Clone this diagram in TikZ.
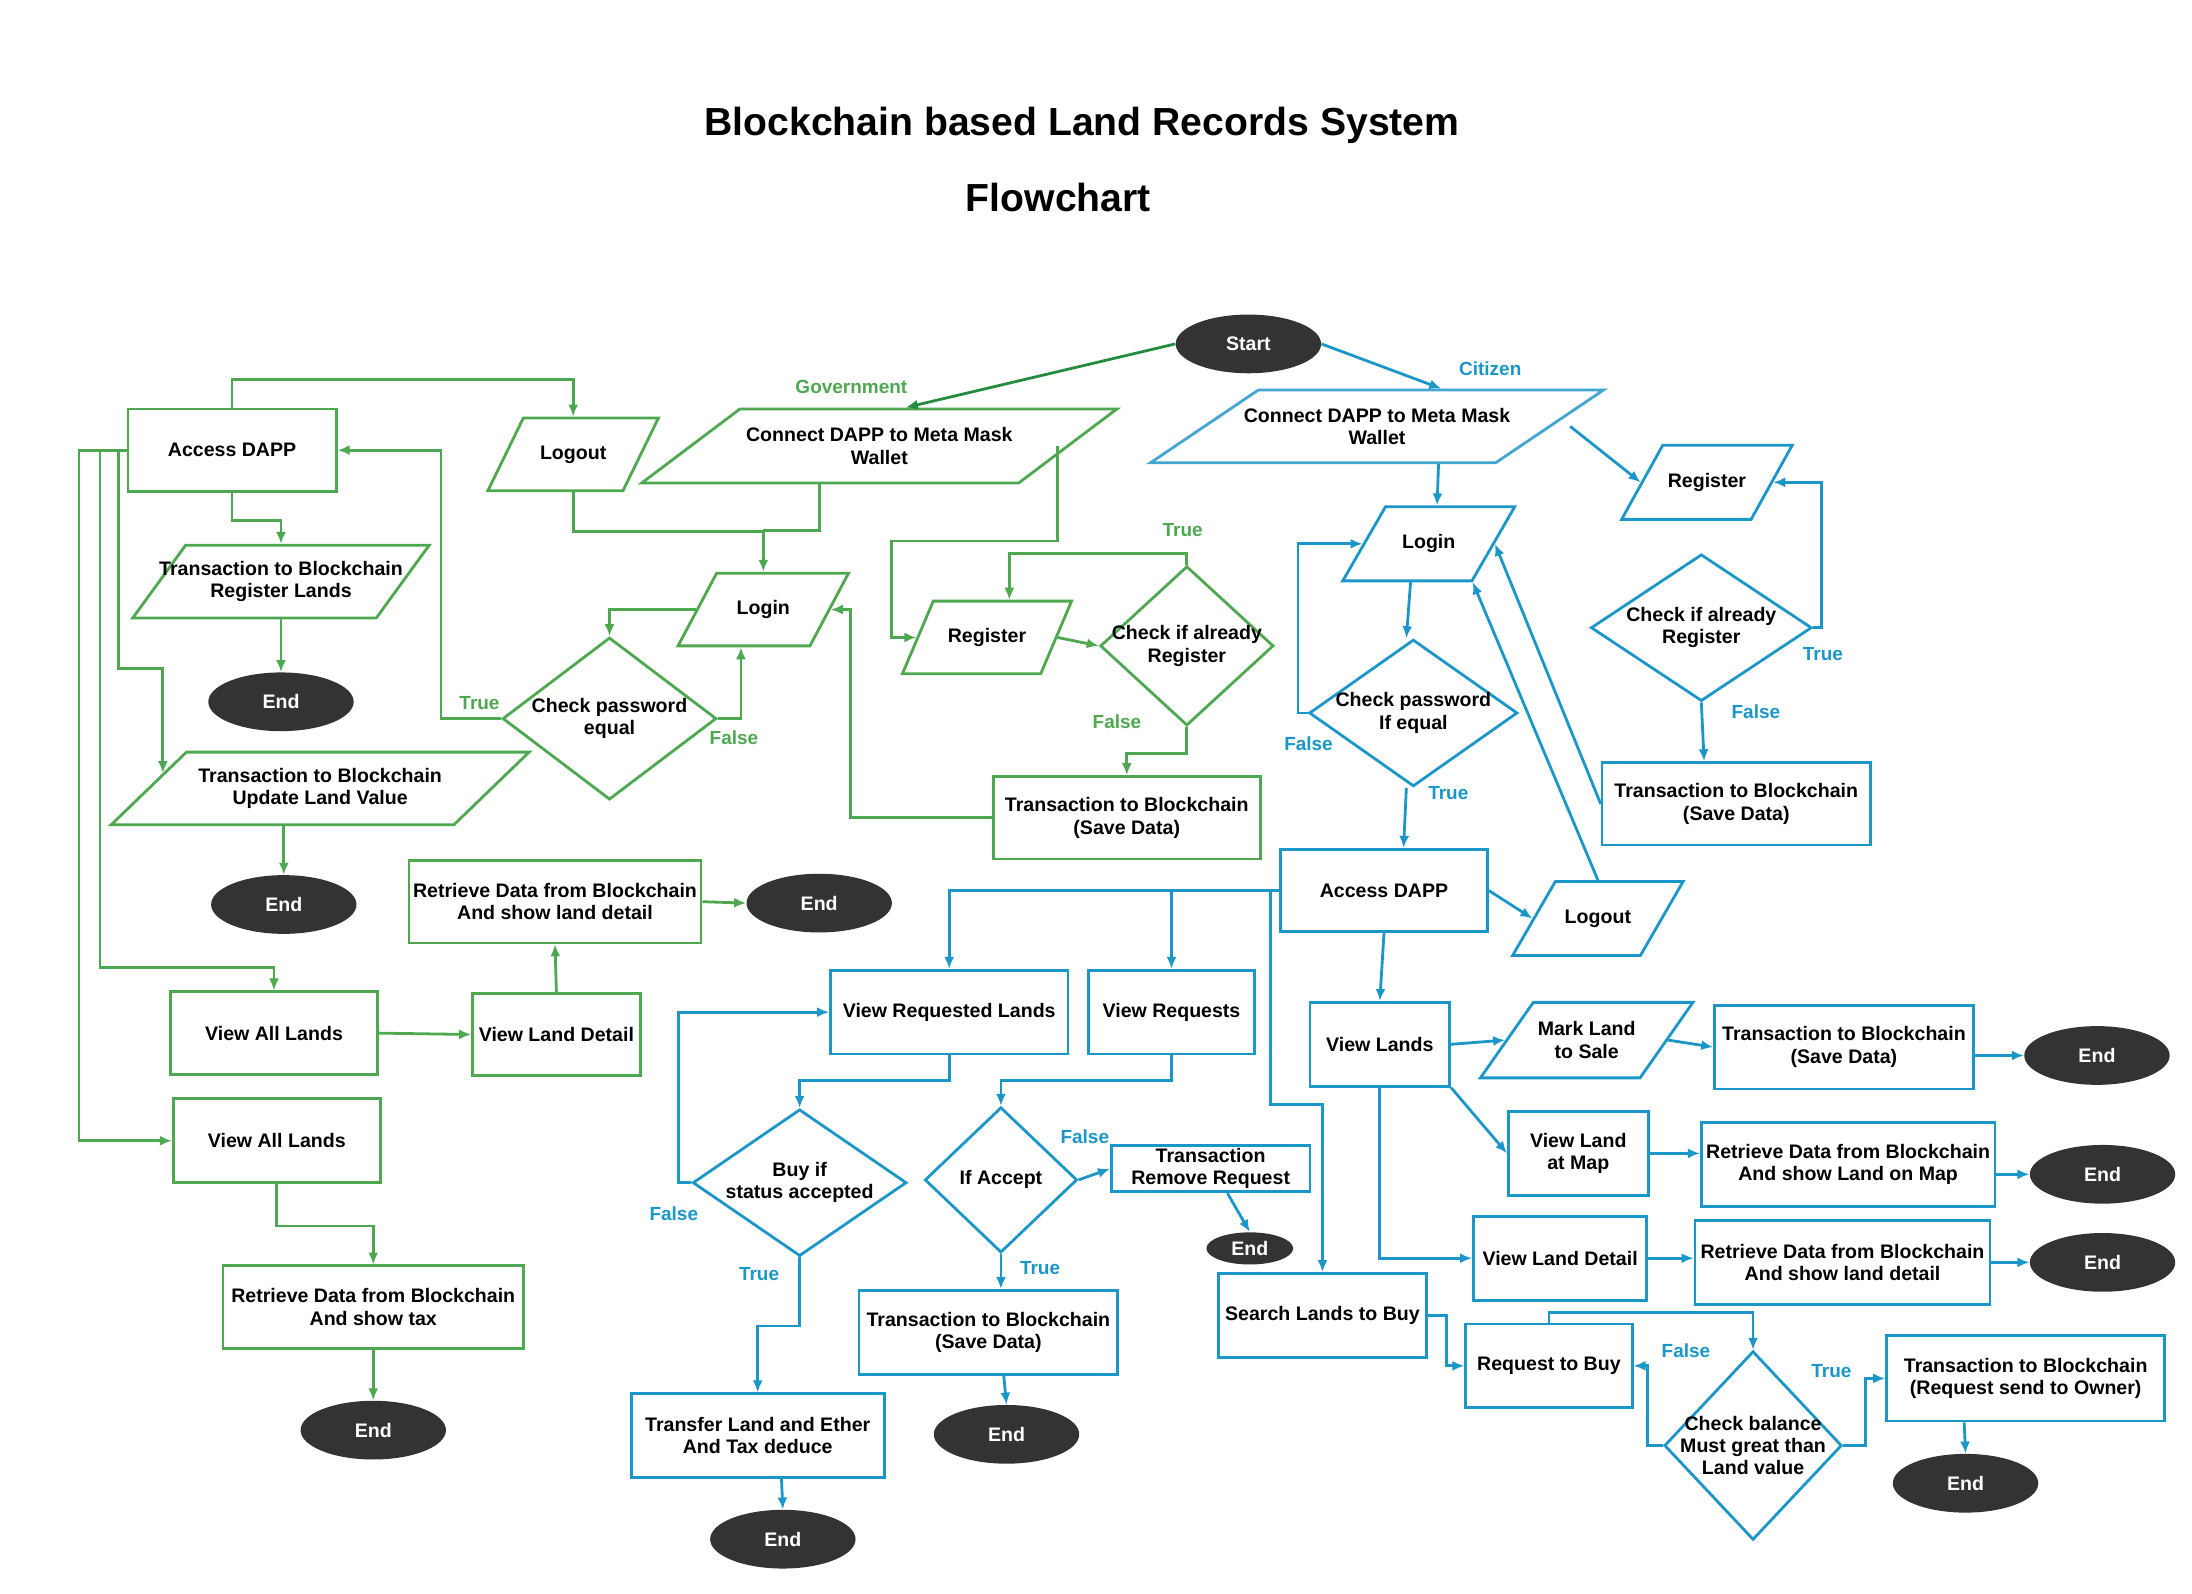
\documentclass[tikz,border=0pt]{standalone}
\usepackage{fontspec}
\setmainfont{Liberation Sans}
\usepackage{xcolor}
\usepackage{tikz}
\usetikzlibrary{arrows, arrows.meta, positioning, shapes.geometric}

\definecolor{gcol}{RGB}{77,168,80}
\definecolor{gdark}{RGB}{36,140,62}
\definecolor{bcol}{RGB}{27,150,200}
\definecolor{blight}{RGB}{66,165,210}
\definecolor{endcol}{RGB}{51,51,51}

\newlength\px \setlength\px{0.7pt}
\newcommand\boxfont{\fontsize{9.8}{11.2}\selectfont\bfseries}
\newcommand\tagfont{\fontsize{9.5}{11}\selectfont\bfseries}
\newcommand\titlefont{\fontsize{19.6}{23}\selectfont\bfseries}
\newcommand\pbody[1]{\rule{0pt}{#1\px}}

\tikzset{wh/.style 2 args={minimum width=#1\px, minimum height=#2\px},
         lean/.style={trapezium left angle=#1, trapezium right angle=180-#1}}
\tikzstyle{gbox} = [rectangle, draw=gcol, line width=1.4pt, align=center, inner sep=0pt, font=\boxfont]
\tikzstyle{bbox} = [gbox, draw=bcol]
\tikzstyle{gpara} = [trapezium, trapezium stretches body, draw=gcol, line width=1.4pt, inner sep=0pt]
\tikzstyle{bpara} = [gpara, draw=bcol]
\tikzstyle{gdec} = [diamond, draw=gcol, line width=1.4pt, inner sep=0pt]
\tikzstyle{bdec} = [gdec, draw=bcol]
\tikzstyle{dtext} = [align=center, inner sep=0pt, font=\boxfont]
\tikzstyle{term} = [ellipse, fill=endcol, text=white, inner sep=0pt, font=\boxfont, minimum width=104\px, minimum height=42\px]
\tikzstyle{garrow} = [draw=gcol, line width=1.4pt, -{Latex[length=6pt,width=5pt]}]
\tikzstyle{barrow} = [garrow, draw=bcol]
\tikzstyle{gline} = [draw=gcol, line width=1.4pt]
\tikzstyle{gtag} = [text=gcol, font=\tagfont]
\tikzstyle{btag} = [text=bcol, font=\tagfont]

\begin{document}
\begin{tikzpicture}[x=0.7pt, y=-0.7pt]
    \useasboundingbox (0,0) rectangle (1568,1140);

    \node (title) [font=\titlefont] at (774,90) {Blockchain based Land Records System};
    \node (subtitle) [font=\titlefont] at (757,141) {Flowchart};

    \node (start) [term] at (893,246) {Start};

    % government side
    \node (gAccess) [gbox, wh={149}{59}] at (166,322) {Access DAPP};
    \node (gLogout) [gpara, lean=64, wh={122}{52}, label={[dtext]center:Logout}] at (410,325) {\pbody{52}};
    \node (gConnect) [gpara, lean=37, wh={340}{53}, label={[dtext]center:Connect DAPP to Meta Mask\\Wallet}] at (629,319) {\pbody{53}};
    \node (gTxReg) [gpara, lean=54, wh={212}{52}, label={[dtext]center:Transaction to Blockchain\\Register Lands}] at (201,416) {\pbody{52}};
    \node (gEndA) [term] at (201,502) {End};
    \node (gLogin) [gpara, lean=62, wh={122}{52}, label={[dtext]center:Login}] at (546,436) {\pbody{52}};
    \node (gCheckPw) [gdec, wh={153}{116}, label={[dtext]center:Check password\\equal}] at (436,514) {};
    \node (gTxUpd) [gpara, lean=44, wh={299}{52}, label={[dtext]center:Transaction to Blockchain\\Update Land Value}] at (229,564) {\pbody{52}};
    \node (gEndB) [term] at (203,647) {End};
    \node (gRetDetail) [gbox, wh={209}{59}] at (397,645) {Retrieve Data from Blockchain\\And show land detail};
    \node (gEndC) [term] at (586,646) {End};
    \node (gViewAllA) [gbox, wh={148}{59}] at (196,739) {View All Lands};
    \node (gViewDetail) [gbox, wh={120}{59}] at (398,740) {View Land Detail};
    \node (gViewAllB) [gbox, wh={148}{60}] at (198,816) {View All Lands};
    \node (gRetTax) [gbox, wh={215}{59}] at (267,935) {Retrieve Data from Blockchain\\And show tax};
    \node (gEndD) [term] at (267,1023) {End};
    \node (gRegister) [gpara, lean=67, wh={121}{52}, label={[dtext]center:Register}] at (706,456) {\pbody{52}};
    \node (gCheckReg) [gdec, wh={124}{114}, label={[dtext]center:Check if already\\Register}] at (849,462) {};
    \node (gTxSave) [gbox, wh={191}{59}] at (806,585) {Transaction to Blockchain\\(Save Data)};

    % citizen side
    \node (bConnect) [bpara, draw=blight, lean=34, wh={324}{52}, label={[dtext]center:Connect DAPP to Meta Mask\\Wallet}] at (985,305) {\pbody{52}};
    \node (bLogin) [bpara, lean=60, wh={123}{53}, label={[dtext]center:Login}] at (1022,389) {\pbody{53}};
    \node (bRegister) [bpara, lean=61, wh={122}{53}, label={[dtext]center:Register}] at (1221,345) {\pbody{53}};
    \node (bCheckReg) [bdec, wh={158}{105}, label={[dtext]center:Check if already\\Register}] at (1217,449) {};
    \node (bTxSave) [bbox, wh={192}{59}] at (1242,575) {Transaction to Blockchain\\(Save Data)};
    \node (bCheckPw) [bdec, wh={149}{105}, label={[dtext]center:Check password\\If equal}] at (1011,510) {};
    \node (bAccess) [bbox, wh={148}{59}] at (990,637) {Access DAPP};
    \node (bLogout) [bpara, lean=60, wh={122}{53}, label={[dtext]center:Logout}] at (1143,657) {\pbody{53}};
    \node (bViewReqL) [bbox, wh={170}{60}] at (679,724) {View Requested Lands};
    \node (bViewReq) [bbox, wh={119}{60}] at (838,724) {View Requests};
    \node (bBuy) [bdec, wh={153}{105}, label={[dtext]center:Buy if\\status accepted}] at (572,846) {};
    \node (bTransfer) [bbox, wh={181}{60}] at (542,1027) {Transfer Land and Ether\\And Tax deduce};
    \node (bEndT) [term] at (560,1101) {End};
    \node (bAccept) [bdec, wh={109}{104}, label={[dtext]center:If Accept}] at (716,844) {};
    \node (bRemove) [bbox, wh={142}{33}] at (866,836) {Transaction\\Remove Request};
    \node (bEndR) [term, wh={62}{23}] at (894,893) {End};
    \node (bTxSaveB) [bbox, wh={185}{60}] at (707,953) {Transaction to Blockchain\\(Save Data)};
    \node (bEndS) [term] at (720,1026) {End};
    \node (bSearch) [bbox, wh={149}{60}] at (946,941) {Search Lands to Buy};
    \node (bReqBuy) [bbox, wh={119}{60}] at (1108,977) {Request to Buy};
    \node (bBalance) [bdec, wh={127}{135}, label={[dtext]center:Check balance\\Must great than\\Land value}] at (1254,1034) {};
    \node (bTxReq) [bbox, wh={199}{61}] at (1449,986) {Transaction to Blockchain\\(Request send to Owner)};
    \node (bEndQ) [term] at (1406,1061) {End};
    \node (bViewLands) [bbox, wh={100}{60}] at (987,747) {View Lands};
    \node (bMark) [bpara, lean=55, wh={152}{54}, label={[dtext]center:Mark Land\\to Sale}] at (1135,744) {\pbody{54}};
    \node (bTxLand) [bbox, wh={185}{60}] at (1319,749) {Transaction to Blockchain\\(Save Data)};
    \node (bEndE) [term] at (1500,755) {End};
    \node (bMapView) [bbox, wh={100}{60}] at (1129,825) {View Land\\at Map};
    \node (bRetMap) [bbox, wh={210}{60}] at (1322,833) {Retrieve Data from Blockchain\\And show Land on Map};
    \node (bEndF) [term] at (1504,840) {End};
    \node (bDetail) [bbox, wh={124}{60}] at (1116,900) {View Land Detail};
    \node (bRetDet) [bbox, wh={211}{60}] at (1318,903) {Retrieve Data from Blockchain\\And show land detail};
    \node (bEndG) [term] at (1504,903) {End};

    % branch labels
    \node (tGov) [gtag] at (609,277) {Government};
    \node (tGTrueA) [gtag] at (846,379) {True};
    \node (tGFalseA) [gtag] at (799,516) {False};
    \node (tGTrueB) [gtag] at (343,503) {True};
    \node (tGFalseB) [gtag] at (525,528) {False};
    \node (tCit) [btag] at (1066,264) {Citizen};
    \node (tBTrueA) [btag] at (1304,468) {True};
    \node (tBFalseA) [btag] at (1256,509) {False};
    \node (tBFalseB) [btag] at (936,532) {False};
    \node (tBTrueB) [btag] at (1036,567) {True};
    \node (tBFalseC) [btag] at (482,868) {False};
    \node (tBTrueC) [btag] at (543,911) {True};
    \node (tBFalseD) [btag] at (776,813) {False};
    \node (tBTrueD) [btag] at (744,907) {True};
    \node (tBFalseE) [btag] at (1206,966) {False};
    \node (tBTrueE) [btag] at (1310,981) {True};

    % government connectors
    \draw[garrow, draw=gdark] (start.west) -- ([xshift=19\px]gConnect.north);
    \draw[garrow] (gAccess.north) -- ++(0,-20) -| (gLogout.north);
    \draw[garrow] (gLogout.south) -- ++(0,28) -| (gLogin.north);
    \draw[gline] ([xshift=-43\px]gConnect.south) -- ++(0,33) -- ++(-40,0);
    \draw[garrow] ([xshift=-9\px]gConnect.east) -- ++(0,68) -- ++(-119,0) |- (gRegister.west);
    \draw[garrow] (gRegister.east) -- (gCheckReg.west);
    \draw[garrow] (gCheckReg.north) -- ++(0,-8) -| ([xshift=16\px]gRegister.north);
    \draw[garrow] (gCheckReg.south) -- ++(0,19) -| (gTxSave.north);
    \draw[garrow] (gTxSave.west) -- ++(-101,0) |- (gLogin.east);
    \draw[garrow] (gLogin.west) -| (gCheckPw.north);
    \draw[garrow] (gCheckPw.east) -| ([xshift=-16\px]gLogin.south);
    \draw[garrow] (gCheckPw.west) -- ++(-43,0) |- (gAccess.east);
    \draw[garrow] (gAccess.south) -- ++(0,20) -| (gTxReg.north);
    \draw[garrow] (gTxReg.south) -- (gEndA.north);
    \draw[garrow] (gTxUpd.south -| gEndB.north) -- (gEndB.north);
    \draw[garrow] (gAccess.west) -| ++(-6,156) -| ++(32,75);
    \draw[garrow] (gAccess.west) -| ++(-19,370) -| (gViewAllA.north);
    \draw[garrow] (gAccess.west) -| ++(-34,494) -- (gViewAllB.west);
    \draw[garrow] (gViewAllA.east) -- (gViewDetail.west);
    \draw[garrow] (gViewDetail.north) -- (gRetDetail.south);
    \draw[garrow] (gRetDetail.east) -- (gEndC.west);
    \draw[garrow] (gViewAllB.south) -- ++(0,30) -| (gRetTax.north);
    \draw[garrow] (gRetTax.south) -- (gEndD.north);

    % citizen connectors
    \draw[barrow] (start.east) -- ([xshift=46\px]bConnect.north);
    \draw[barrow] ([xshift=44\px]bConnect.south) -- ([xshift=6\px]bLogin.north);
    \draw[barrow] ([xshift=13\px]bConnect.east) -- (bRegister.west);
    \draw[barrow] (bCheckReg.east) -- ++(6,0) |- (bRegister.east);
    \draw[barrow] (bCheckReg.south) -- ([xshift=-23\px]bTxSave.north);
    \draw[barrow] (bTxSave.west) -- (bLogin.east);
    \draw[barrow] (bLogout.north) -- (bLogin.bottom right corner);
    \draw[barrow] ([xshift=-13\px]bLogin.south) -- ([xshift=-5\px]bCheckPw.north);
    \draw[barrow] (bCheckPw.west) -- ++(-7,0) |- (bLogin.west);
    \draw[barrow] ([xshift=-5\px]bCheckPw.south) -- ([xshift=14\px]bAccess.north);
    \draw[barrow] (bAccess.east) -- (bLogout.west);
    \draw[barrow] (bAccess.west) -| (bViewReqL.north);
    \draw[barrow] (bViewReq.north |- bAccess.west) -- (bViewReq.north);
    \draw[barrow] ([xshift=-6\px]bAccess.west) -- ++(0,153) -| (bSearch.north);
    \draw[barrow] (bViewReqL.south) -- ++(0,18) -| (bBuy.north);
    \draw[barrow] (bBuy.west) -- ++(-9,0) |- (bViewReqL.west);
    \draw[barrow] (bBuy.south) -- ++(0,49) -| (bTransfer.north);
    \draw[barrow] ([xshift=17\px]bTransfer.south) -- (bEndT.north);
    \draw[barrow] (bViewReq.south) -- ++(0,18) -| (bAccept.north);
    \draw[barrow] (bAccept.east) -- (bRemove.west);
    \draw[barrow] ([xshift=12\px]bRemove.south) -- (bEndR.north);
    \draw[barrow] (bAccept.south) -- (bAccept.south |- bTxSaveB.north);
    \draw[barrow] ([xshift=11\px]bTxSaveB.south) -- (bEndS.north);
    \draw[barrow] (bSearch.east) -- ++(13,0) |- (bReqBuy.west);
    \draw[barrow] (bReqBuy.north) -- ++(0,-7) -| (bBalance.north);
    \draw[barrow] (bBalance.west) -- ++(-11,0) |- (bReqBuy.east);
    \draw[barrow] (bBalance.east) -- ++(16,0) |- (bTxReq.west);
    \draw[barrow] ([xshift=-44\px]bTxReq.south) -- (bEndQ.north);
    \draw[barrow] (bAccess.south) -- (bViewLands.north);
    \draw[barrow] (bViewLands.east) -- (bMark.west);
    \draw[barrow] (bMark.east) -- (bTxLand.west);
    \draw[barrow] (bTxLand.east |- bEndE.west) -- (bEndE.west);
    \draw[barrow] (bViewLands.south east) -- (bMapView.west);
    \draw[barrow] (bMapView.east) -- (bRetMap.west |- bMapView.east);
    \draw[barrow] (bRetMap.east |- bEndF.west) -- (bEndF.west);
    \draw[barrow] (bViewLands.south) |- (bDetail.west);
    \draw[barrow] (bDetail.east) -- (bRetDet.west |- bDetail.east);
    \draw[barrow] (bRetDet.east) -- (bEndG.west);
\end{tikzpicture}
\end{document}
